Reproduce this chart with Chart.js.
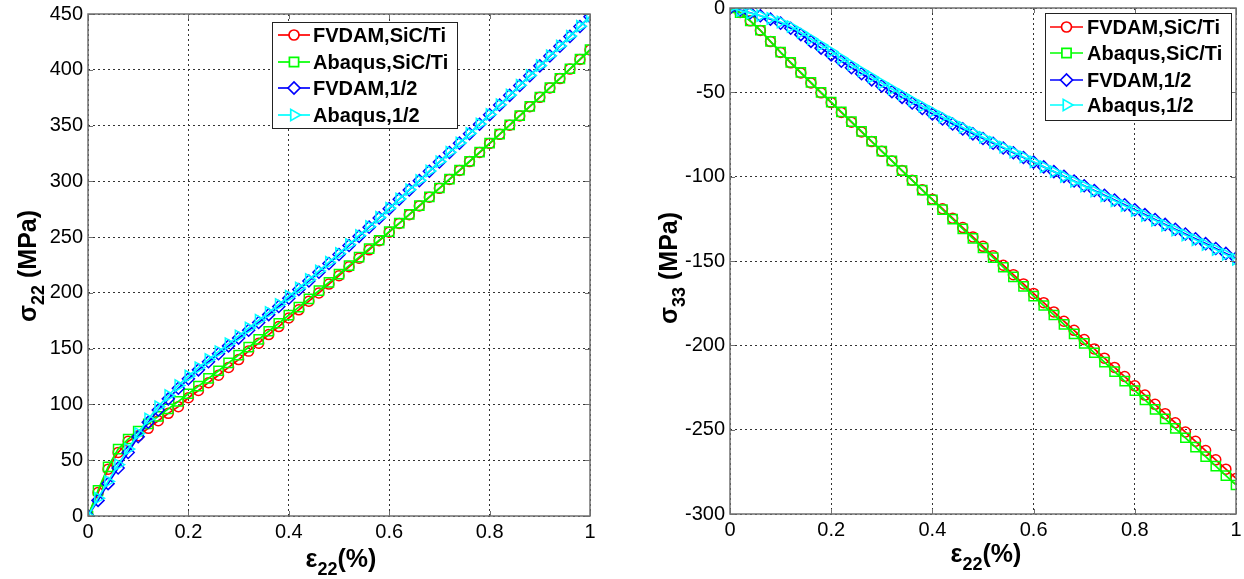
<!DOCTYPE html>
<html>
<head>
<meta charset="utf-8">
<script src="https://cdn.jsdelivr.net/npm/chart.js@4.4.1/dist/chart.umd.min.js"></script>
<style>
  html, body { margin: 0; padding: 0; background: #fff; }
  #wrap { position: relative; width: 1244px; height: 579px; overflow: hidden; }
  canvas { position: absolute; top: 0; }
</style>
</head>
<body>
<div id="wrap">
  <canvas id="s22Chart" width="620" height="579" style="left:0"></canvas>
  <canvas id="s33Chart" width="624" height="579" style="left:620px"></canvas>
</div>
<script>
// strain e22 (%), same sampling for every curve
const strain = [0, 0.02, 0.04, 0.06, 0.08, 0.1, 0.12, 0.14, 0.16, 0.18, 0.2,
  0.22, 0.24, 0.26, 0.28, 0.3, 0.32, 0.34, 0.36, 0.38, 0.4,
  0.42, 0.44, 0.46, 0.48, 0.5, 0.52, 0.54, 0.56, 0.58, 0.6,
  0.62, 0.64, 0.66, 0.68, 0.7, 0.72, 0.74, 0.76, 0.78, 0.8,
  0.82, 0.84, 0.86, 0.88, 0.9, 0.92, 0.94, 0.96, 0.98, 1];

const seriesNames = ['FVDAM,SiC/Ti', 'Abaqus,SiC/Ti', 'FVDAM,1/2', 'Abaqus,1/2'];

// sigma22 (MPa)
const s22FvdamSic = [0, 21, 42, 57, 67, 72, 78.6, 85.4, 92, 98, 106,
  112.5, 119.5, 126.2, 133.2, 140.2, 147.8, 154.9, 162.6, 169.8, 177.5,
  184.8, 192.6, 200, 207.9, 215.4, 223.4, 231, 238.6, 246.7, 254.4,
  262.3, 270.1, 277.9, 285.8, 293.7, 301.7, 309.7, 317.7, 325.8, 333.9,
  342.1, 350.3, 358.6, 366.9, 375.3, 383.7, 392.1, 400.6, 409.2, 417.7];
const s22AbaqusSic = [0, 23, 44, 60, 69, 76, 82.6, 89.3, 96.0, 102.8, 109.6,
  116.4, 123.3, 130.2, 137.2, 144.2, 151.3, 158.4, 165.6, 172.8, 180.0,
  187.3, 194.6, 202.0, 209.4, 216.9, 224.4, 232.0, 239.6, 247.2, 254.9,
  262.6, 270.4, 278.2, 286.1, 294.0, 302.0, 310.0, 318.0, 326.1, 334.2,
  342.4, 350.6, 358.9, 367.2, 375.6, 384.0, 392.4, 400.9, 409.5, 418.0];
const s22FvdamHalf = [0, 14, 29, 43, 57, 71, 84, 95, 105, 114.5, 123,
  131.0, 138.3, 145.4, 152.5, 159.5, 166.5, 173.5, 180.5, 187.8, 195.2,
  203.0, 210.7, 218.5, 226.4, 234.4, 242.5, 250.7, 258.9, 267.2, 275.5,
  284.0, 292.3, 300.6, 309.0, 317.4, 325.8, 334.2, 342.7, 351.2, 359.7,
  368.4, 377.1, 385.9, 394.7, 403.5, 412.3, 421.1, 429.9, 438.8, 447.6];
const s22AbaqusHalf = [0, 16, 31, 46, 60, 74, 87, 98, 108, 117, 125.5,
  133.0, 140.3, 147.4, 154.5, 161.5, 168.5, 175.5, 182.5, 189.7, 197.0,
  204.4, 212.0, 219.7, 227.5, 235.4, 243.4, 251.5, 259.6, 267.8, 276.0,
  284.3, 292.6, 300.9, 309.3, 317.7, 326.1, 334.5, 343.0, 351.5, 360.0,
  368.7, 377.4, 386.2, 395.0, 403.8, 412.6, 421.4, 430.2, 439.1, 448.0];

// sigma33 (MPa)
const s33FvdamSic = [0, -2.6, -7.6, -13.3, -19.9, -26.4, -32.5, -38.5, -44.4, -50.3, -56.1,
  -61.9, -67.7, -73.5, -79.2, -85.0, -90.7, -96.4, -102.1, -107.8, -113.4,
  -119.0, -124.6, -130.2, -135.7, -141.3, -146.9, -152.5, -158.1, -163.6, -169.2,
  -174.7, -180.2, -185.7, -191.1, -196.6, -202.1, -207.6, -213.1, -218.5, -224.0,
  -229.5, -235.0, -240.5, -245.9, -251.4, -256.9, -262.4, -267.9, -273.4, -278.9];
const s33AbaqusSic = [0, -2.8, -7.7, -13.2, -19.8, -26.2, -32.2, -38.2, -44.1, -50.0, -55.8,
  -61.6, -67.4, -73.2, -79.0, -84.8, -90.6, -96.4, -102.2, -108.0, -113.8,
  -119.5, -125.2, -130.9, -136.6, -142.3, -148.0, -153.7, -159.4, -165.1, -170.8,
  -176.4, -182.0, -187.6, -193.2, -198.8, -204.4, -210.0, -215.6, -221.2, -226.8,
  -232.4, -238.0, -243.6, -249.2, -254.8, -260.4, -266.0, -271.6, -277.2, -282.8];
const s33FvdamHalf = [0, -1.2, -2.8, -4.6, -6.6, -9.0, -12.0, -15.8, -19.8, -23.8, -27.8,
  -31.6, -35.4, -39.0, -42.6, -46.2, -49.6, -53.0, -56.3, -59.6, -62.8,
  -65.8, -68.8, -71.7, -74.6, -77.4, -80.2, -83.0, -85.8, -88.6, -91.4,
  -94.2, -97.0, -99.8, -102.6, -105.4, -108.2, -111.0, -113.8, -116.7, -119.6,
  -122.5, -125.4, -128.3, -131.2, -134.0, -136.8, -139.7, -142.6, -145.5, -148.3];
const s33AbaqusHalf = [0, -1.5, -3.0, -4.5, -6.2, -8.3, -11.0, -14.5, -18.2, -22.0, -25.8,
  -29.8, -33.6, -37.3, -40.9, -44.5, -48.0, -51.4, -54.8, -58.1, -61.4,
  -64.6, -67.7, -70.8, -73.8, -76.7, -79.6, -82.5, -85.4, -88.3, -91.2,
  -94.1, -97.0, -99.9, -102.8, -105.6, -108.5, -111.4, -114.3, -117.2, -120.1,
  -123.0, -125.9, -128.8, -131.7, -134.6, -137.4, -140.3, -143.2, -146.1, -149.0];

// axis ticks
const xTicks = [0, 0.2, 0.4, 0.6, 0.8, 1];
const s22Ticks = [0, 50, 100, 150, 200, 250, 300, 350, 400, 450];
const s33Ticks = [-300, -250, -200, -150, -100, -50, 0];

const FONT = 'Arial, "Liberation Sans", sans-serif';
Chart.defaults.font.family = FONT;
Chart.defaults.color = '#000';

// marker look for each series (MATLAB o, s, d, >)
const seriesStyle = [
  { color: '#ff0000', pointStyle: 'circle', radius: 5, rotation: 0, order: 3 },
  { color: '#00ff00', pointStyle: 'rect', radius: 6.5, rotation: 0, order: 2 },
  { color: '#0000ff', pointStyle: 'rectRot', radius: 6, rotation: 0, order: 1 },
  { color: '#00ffff', pointStyle: 'triangle', radius: 6.5, rotation: 90, order: 0 }
];

function makeDatasets(seriesList) {
  return seriesList.map((vals, i) => {
    const st = seriesStyle[i];
    return {
      label: seriesNames[i],
      data: strain.map((x, k) => ({ x: x, y: vals[k] })),
      borderColor: st.color,
      borderWidth: 1.7,
      pointStyle: st.pointStyle,
      pointRadius: st.radius,
      pointRotation: st.rotation,
      pointBorderColor: st.color,
      pointBackgroundColor: 'rgba(0,0,0,0)',
      pointBorderWidth: 1.5,
      tension: 0,
      fill: false,
      order: st.order
    };
  });
}

// draws text with a subscript part, centred on (0,0)
function drawSubText(ctx, parts, size) {
  const big = 'bold ' + size + 'px ' + FONT;
  const small = 'bold ' + Math.round(size * 0.72) + 'px ' + FONT;
  let total = 0;
  parts.forEach(p => { ctx.font = p.sub ? small : big; p.w = ctx.measureText(p.t).width; total += p.w; });
  let x = -total / 2;
  ctx.textAlign = 'left';
  ctx.textBaseline = 'alphabetic';
  parts.forEach(p => {
    ctx.font = p.sub ? small : big;
    ctx.fillText(p.t, x, p.sub ? size * 0.3 : 0);
    x += p.w;
  });
}

// axes box, inward ticks, legend and axis titles
const framePlugin = {
  id: 'frame',
  afterDraw(chart, args, opts) {
    const { ctx, chartArea: a, scales } = chart;
    ctx.save();
    ctx.strokeStyle = '#707070';
    ctx.lineWidth = 1.5;
    ctx.strokeRect(a.left, a.top, a.right - a.left, a.bottom - a.top);

    ctx.lineWidth = 1;
    ctx.beginPath();
    scales.x.ticks.forEach(t => {
      const px = Math.round(scales.x.getPixelForValue(t.value)) + 0.5;
      ctx.moveTo(px, a.bottom); ctx.lineTo(px, a.bottom - 5);
      ctx.moveTo(px, a.top); ctx.lineTo(px, a.top + 5);
    });
    scales.y.ticks.forEach(t => {
      const py = Math.round(scales.y.getPixelForValue(t.value)) + 0.5;
      ctx.moveTo(a.left, py); ctx.lineTo(a.left + 5, py);
      ctx.moveTo(a.right, py); ctx.lineTo(a.right - 5, py);
    });
    ctx.stroke();

    // legend box
    const lg = opts.legend;
    ctx.fillStyle = '#fff';
    ctx.fillRect(lg.x, lg.y, lg.w, lg.h);
    ctx.strokeStyle = '#222';
    ctx.lineWidth = 1;
    ctx.strokeRect(lg.x + 0.5, lg.y + 0.5, lg.w, lg.h);
    chart.data.datasets.forEach((ds, i) => {
      const st = seriesStyle[i];
      const y = lg.rows[i];
      ctx.strokeStyle = st.color;
      ctx.lineWidth = 1.7;
      ctx.beginPath();
      ctx.moveTo(lg.lineX0, y);
      ctx.lineTo(lg.lineX1, y);
      ctx.stroke();
      ctx.fillStyle = '#fff';
      Chart.helpers.drawPoint(ctx, {
        pointStyle: st.pointStyle, radius: st.radius, rotation: st.rotation, borderWidth: 1.5
      }, (lg.lineX0 + lg.lineX1) / 2, y);
      ctx.fillStyle = '#000';
      ctx.font = 'bold 20px ' + FONT;
      ctx.textAlign = 'left';
      ctx.textBaseline = 'middle';
      ctx.fillText(ds.label, lg.textX, y + 1);
    });

    // axis titles
    ctx.fillStyle = '#000';
    const yt = opts.yTitle;
    ctx.save();
    ctx.translate(yt.x, yt.y);
    ctx.rotate(-Math.PI / 2);
    drawSubText(ctx, yt.parts, 25);
    ctx.restore();
    const xt = opts.xTitle;
    ctx.save();
    ctx.translate(xt.x, xt.y);
    drawSubText(ctx, xt.parts, 25);
    ctx.restore();
    ctx.restore();
  }
};

function axisFit(size, key) {
  return function (scale) {
    scale[key] = size;
    scale.paddingTop = 0; scale.paddingBottom = 0;
    scale.paddingLeft = 0; scale.paddingRight = 0;
  };
}

function makeChart(canvasId, seriesList, yTicks, layout) {
  const ctx = document.getElementById(canvasId).getContext('2d');
  return new Chart(ctx, {
    type: 'line',
    data: { datasets: makeDatasets(seriesList) },
    options: {
      responsive: false,
      animation: false,
      events: [],
      layout: { padding: { top: layout.top, right: layout.right, left: 0, bottom: 0 } },
      scales: {
        x: {
          type: 'linear',
          min: 0, max: 1,
          afterBuildTicks: s => { s.ticks = xTicks.map(v => ({ value: v })); },
          afterFit: axisFit(layout.xAxisH, 'height'),
          ticks: { font: { size: 20 }, padding: 4, maxRotation: 0, callback: v => String(v) },
          grid: { color: '#333', lineWidth: 1, drawTicks: false },
          border: { display: false, dash: [2, 3] }
        },
        y: {
          min: yTicks[0], max: yTicks[yTicks.length - 1],
          afterBuildTicks: s => { s.ticks = yTicks.map(v => ({ value: v })); },
          afterFit: axisFit(layout.yAxisW, 'width'),
          ticks: { font: { size: 20 }, padding: 5, callback: v => String(v) },
          grid: { color: '#333', lineWidth: 1, drawTicks: false },
          border: { display: false, dash: [2, 3] }
        }
      },
      plugins: {
        legend: { display: false },
        tooltip: { enabled: false },
        frame: layout.frame
      }
    },
    plugins: [framePlugin]
  });
}

const e22Parts = [{ t: 'ε' }, { t: '22', sub: true }, { t: '(%)' }];

makeChart('s22Chart', [s22FvdamSic, s22AbaqusSic, s22FvdamHalf, s22AbaqusHalf], s22Ticks, {
  top: 14, right: 30, yAxisW: 88, xAxisH: 63,
  frame: {
    legend: { x: 272, y: 22, w: 185, h: 106, rows: [35, 62, 88, 115], lineX0: 278, lineX1: 310, textX: 313 },
    yTitle: { x: 36, y: 266, parts: [{ t: 'σ' }, { t: '22', sub: true }, { t: ' (MPa)' }] },
    xTitle: { x: 341, y: 567, parts: e22Parts }
  }
});

makeChart('s33Chart', [s33FvdamSic, s33AbaqusSic, s33FvdamHalf, s33AbaqusHalf], s33Ticks, {
  top: 7, right: 8, yAxisW: 110, xAxisH: 65,
  frame: {
    legend: { x: 425, y: 13, w: 186, h: 107, rows: [27, 53, 80, 105], lineX0: 430, lineX1: 463, textX: 467 },
    yTitle: { x: 57, y: 268, parts: [{ t: 'σ' }, { t: '33', sub: true }, { t: ' (MPa)' }] },
    xTitle: { x: 366, y: 562, parts: e22Parts }
  }
});
</script>
</body>
</html>
